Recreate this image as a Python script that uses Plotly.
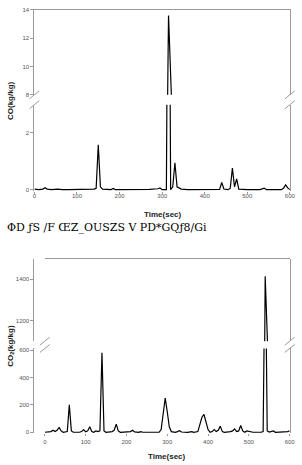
import plotly.graph_objects as go

W, H = 302, 465

# ---- data: CO (kg/kg) ----
co_time = [0, 10, 20, 25, 30, 40, 55, 65, 80, 100, 120, 140, 145, 150, 155, 160,
           180, 185, 190, 220, 255, 260, 270, 290, 295, 300, 305, 310, 315, 320,
           325, 330, 335, 340, 345, 360, 380, 400, 420, 435, 440, 445, 455, 460,
           465, 470, 475, 480, 500, 530, 540, 545, 560, 580, 585, 590, 595, 600]
co_vals = [0.02, 0.0, 0.02, 0.07, 0.02, 0.0, 0.02, 0.0, 0.0, 0.0, 0.0, 0.02, 0.05, 1.58, 0.1, 0.02,
           0.0, 0.04, 0.0, 0.0, 0.0, 0.02, 0.01, 0.03, 0.06, 0.0, 0.0, 0.0, 13.6, 0.0,
           0.1, 0.95, 0.1, 0.07, 0.02, 0.0, 0.0, 0.0, 0.0, 0.01, 0.25, 0.02, 0.0, 0.05,
           0.76, 0.1, 0.38, 0.02, 0.0, 0.0, 0.05, 0.0, 0.0, 0.0, 0.05, 0.17, 0.06, 0.0]

# ---- data: CO2 (kg/kg) ----
co2_time = [0, 10, 15, 20, 25, 30, 35, 40, 45, 55, 60, 65, 70, 85, 90, 95, 100, 105, 110, 115,
            120, 125, 130, 135, 140, 145, 150, 165, 170, 175, 180, 185, 200, 210, 215, 220,
            230, 235, 240, 260, 280, 285, 290, 295, 300, 305, 310, 320, 325, 330, 335, 350,
            360, 365, 375, 380, 385, 390, 395, 400, 405, 410, 415, 420, 425, 430, 435, 440,
            455, 460, 465, 470, 475, 480, 485, 490, 495, 500, 510, 530, 535, 540, 545, 550,
            560, 565, 580, 595, 600]
co2_vals = [0, 2, 5, 15, 5, 15, 35, 10, 0, 5, 200, 10, 0, 0, 5, 20, 3, 10, 40, 5,
            0, 10, 5, 10, 580, 10, 0, 5, 15, 60, 10, 0, 0, 5, 15, 3,
            0, 5, 0, 0, 0, 20, 120, 250, 150, 40, 5, 0, 5, 12, 2, 0,
            5, 0, 5, 50, 110, 130, 80, 20, 0, 5, 20, 5, 15, 45, 5, 0,
            5, 10, 25, 5, 10, 50, 10, 0, 10, 5, 0, 0, 5, 1415, 10, 2,
            10, 0, 0, 5, 10]

x_ticks = [0, 100, 200, 300, 400, 500, 600]
co_low_ticks = [0, 2]
co_up_ticks = [8, 10, 12, 14]
co2_low_ticks = [0, 200, 400, 600]
co2_up_ticks = [1200, 1400]

def fx(px):
    return px / W

def fy(px):
    return 1 - px / H

AX = "#9a9a9a"
TICKF = dict(family="Liberation Sans, Arial", size=6, color="#555")
LINE = dict(color="black", width=1.2)

fig = go.Figure()
fig.add_trace(go.Scatter(x=co_time, y=co_vals, mode="lines", line=LINE, xaxis="x", yaxis="y"))
fig.add_trace(go.Scatter(x=co_time, y=co_vals, mode="lines", line=LINE, xaxis="x2", yaxis="y2"))
fig.add_trace(go.Scatter(x=co2_time, y=co2_vals, mode="lines", line=LINE, xaxis="x3", yaxis="y3"))
fig.add_trace(go.Scatter(x=co2_time, y=co2_vals, mode="lines", line=LINE, xaxis="x4", yaxis="y4"))

co_xd = [fx(33.3), fx(295.7)]
co2_xd = [fx(44), fx(295.5)]

common_y = dict(showline=True, linecolor=AX, linewidth=1, mirror=True, ticks="outside",
                ticklen=3, tickcolor=AX, tickfont=TICKF, showgrid=False, zeroline=False)
common_x = dict(range=[0, 600], showgrid=False, zeroline=False)

fig.update_layout(
    width=W, height=H, margin=dict(l=0, r=0, t=0, b=0),
    paper_bgcolor="white", plot_bgcolor="white", showlegend=False,
    xaxis=dict(domain=co_xd, anchor="y", tickvals=x_ticks, ticks="outside", ticklen=2,
               tickcolor=AX, tickfont=TICKF, showline=False, ticklabelstandoff=-3, **common_x),
    xaxis2=dict(domain=co_xd, anchor="y2", matches="x", side="top", showline=True,
                linecolor=AX, showticklabels=False, ticks="", **common_x),
    yaxis=dict(domain=[fy(190.5), fy(103)], range=[-0.05, 3], tickvals=co_low_ticks, **common_y),
    yaxis2=dict(domain=[fy(93), fy(7)], range=[8, 14], tickvals=co_up_ticks, **common_y),
    xaxis3=dict(domain=co2_xd, anchor="y3", tickvals=x_ticks, ticks="outside", ticklen=2,
                tickcolor=AX, tickfont=TICKF, showline=False, **common_x),
    xaxis4=dict(domain=co2_xd, anchor="y4", matches="x3", side="top", showline=True,
                linecolor=AX, showticklabels=False, ticks="", **common_x),
    yaxis3=dict(domain=[fy(436), fy(350)], range=[-8, 612], tickvals=co2_low_ticks, **common_y),
    yaxis4=dict(domain=[fy(342.6), fy(259)], range=[1100, 1500], tickvals=co2_up_ticks, **common_y),
)

# break marks
shapes = []
for xa in (33.3, 295.7):
    for yb in (93, 103):
        shapes.append(dict(type="line", xref="paper", yref="paper",
                           x0=fx(xa - 5), y0=fy(yb + 4), x1=fx(xa + 5), y1=fy(yb - 4),
                           line=dict(color=AX, width=1)))
for xa in (44, 295.5):
    for yb in (342.6, 350):
        shapes.append(dict(type="line", xref="paper", yref="paper",
                           x0=fx(xa - 5), y0=fy(yb + 4), x1=fx(xa + 5), y1=fy(yb - 4),
                           line=dict(color=AX, width=1)))
fig.update_layout(shapes=shapes)

TF = dict(family="Liberation Sans, Arial", size=8, color="#222")
ann = [
    dict(text="<b>Time(sec)</b>", x=fx(165.5), y=fy(214), xref="paper", yref="paper",
         showarrow=False, font=TF, xanchor="center", yanchor="middle"),
    dict(text="<b>CO(kg/kg)</b>", x=fx(8.5), y=fy(99), xref="paper", yref="paper",
         showarrow=False, font=TF, textangle=-90, xanchor="center", yanchor="middle"),
    dict(text="<b>Time(sec)</b>", x=fx(169.5), y=fy(459), xref="paper", yref="paper",
         showarrow=False, font=TF, xanchor="center", yanchor="middle"),
    dict(text="<b>CO<sub>2</sub>(kg/kg)</b>", x=fx(8.5), y=fy(347), xref="paper", yref="paper",
         showarrow=False, font=TF, textangle=-90, xanchor="center", yanchor="middle"),
    dict(text="ΦD ƒS /F ŒZ_OUSZS V PD*GQƒ8/Gi", x=fx(3), y=fy(227), xref="paper", yref="paper",
         showarrow=False, font=dict(family="DejaVu Serif", size=11, color="black"),
         xanchor="left", yanchor="middle"),
]
fig.update_layout(annotations=ann)

fig.write_html("out.html")
